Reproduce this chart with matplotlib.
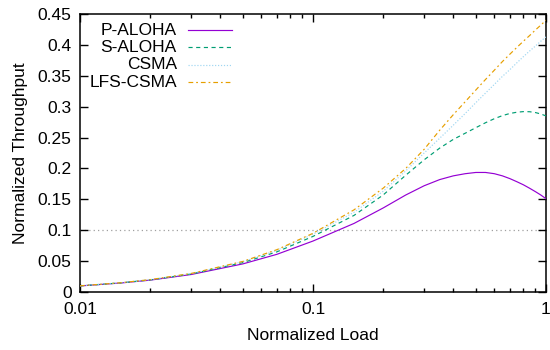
#!/usr/bin/env python3
"""Throughput vs. offered load for P-ALOHA, S-ALOHA, CSMA and LFS-CSMA."""
import matplotlib

matplotlib.use("Agg")
import matplotlib.pyplot as plt  # noqa: E402
from matplotlib.ticker import LogLocator, FixedLocator, FuncFormatter  # noqa: E402

plt.rcParams["font.family"] = ["Liberation Sans", "DejaVu Sans"]
plt.rcParams["font.size"] = 12.5

# ---- data ------------------------------------------------------------------
load = [0.01, 0.015, 0.02, 0.03, 0.05, 0.07, 0.1, 0.15, 0.2, 0.25, 0.3, 0.35,
        0.4, 0.45, 0.5, 0.55, 0.6, 0.65, 0.7, 0.75, 0.8, 0.85, 0.9, 0.95, 1.0]

p_aloha = [0.0098, 0.0146, 0.0192, 0.0283, 0.0455, 0.0610, 0.0825, 0.1110,
           0.1360, 0.1570, 0.1720, 0.1820, 0.1880, 0.1915, 0.1935, 0.1935,
           0.1915, 0.1880, 0.1835, 0.1785, 0.1735, 0.1680, 0.1625, 0.1570,
           0.1510]

s_aloha = [0.0099, 0.0148, 0.0196, 0.0291, 0.0476, 0.0650, 0.0900, 0.1240,
           0.1570, 0.1890, 0.2140, 0.2330, 0.2470, 0.2570, 0.2660, 0.2740,
           0.2805, 0.2855, 0.2890, 0.2910, 0.2920, 0.2918, 0.2905, 0.2882,
           0.2850]

csma = [0.0100, 0.0150, 0.0199, 0.0298, 0.0490, 0.0675, 0.0935, 0.1290,
        0.1630, 0.1960, 0.2250, 0.2490, 0.2700, 0.2890, 0.3065, 0.3220,
        0.3360, 0.3490, 0.3600, 0.3710, 0.3810, 0.3900, 0.3980, 0.4060,
        0.4130]

lfs_csma = [0.0100, 0.0150, 0.0200, 0.0300, 0.0495, 0.0685, 0.0950, 0.1330,
            0.1680, 0.2000, 0.2310, 0.2620, 0.2870, 0.3080, 0.3270, 0.3440,
            0.3590, 0.3730, 0.3850, 0.3960, 0.4060, 0.4150, 0.4240, 0.4320,
            0.4400]

series = [
    ("P-ALOHA", p_aloha, "#9400D3", "-"),
    ("S-ALOHA", s_aloha, "#009E73", (0, (3.5, 3))),
    ("CSMA", csma, "#9fd6f2", (0, (1, 1.5))),
    ("LFS-CSMA", lfs_csma, "#E69F00", (0, (4, 2.5, 1.5, 2.5))),
]

# ---- figure ----------------------------------------------------------------
fig = plt.figure(figsize=(5.5, 3.5), dpi=100)
ax = fig.add_axes([80 / 550, 58 / 350, 466 / 550, 278 / 350])

ax.axhline(0.1, color="#a0a0a0", lw=0.9, ls=(0, (1, 2.5)), zorder=1)

for name, ys, color, ls in series:
    ax.plot(load, ys, color=color, ls=ls, lw=0.85, zorder=3)

ax.set_xscale("log")
ax.set_xlim(0.01, 1)
ax.set_ylim(0, 0.45)
ax.xaxis.set_major_locator(FixedLocator([0.01, 0.1, 1]))
ax.xaxis.set_major_formatter(FuncFormatter(lambda v, _: f"{v:g}"))
ax.xaxis.set_minor_locator(LogLocator(base=10, subs=range(2, 10)))
ax.xaxis.set_minor_formatter(FuncFormatter(lambda v, _: ""))
ax.yaxis.set_major_locator(FixedLocator([i * 0.05 for i in range(10)]))
ax.yaxis.set_major_formatter(FuncFormatter(lambda v, _: f"{v:.2f}".rstrip("0").rstrip(".")))

ax.tick_params(which="both", direction="in", top=True, right=True, width=1)
ax.tick_params(which="major", length=6)
ax.tick_params(which="minor", length=3)
ax.tick_params(axis="x", which="major", pad=7)
ax.tick_params(axis="y", pad=6)
for s in ax.spines.values():
    s.set_linewidth(1.1)

ax.set_xlabel("Normalized Load", labelpad=8)
ax.set_ylabel("Normalized Throughput", labelpad=7)

# gnuplot-style key: right-aligned labels, sample line to the right
rows = [0.942, 0.880, 0.817, 0.754]
for (name, ys, color, ls), yr in zip(series, rows):
    ax.text(0.208, yr, name, transform=ax.transAxes, ha="right", va="center")
    ax.plot([0.232, 0.326], [yr, yr], transform=ax.transAxes, color=color,
            ls=ls, lw=0.85)

fig.savefig("out.png", dpi=100, facecolor="white")
